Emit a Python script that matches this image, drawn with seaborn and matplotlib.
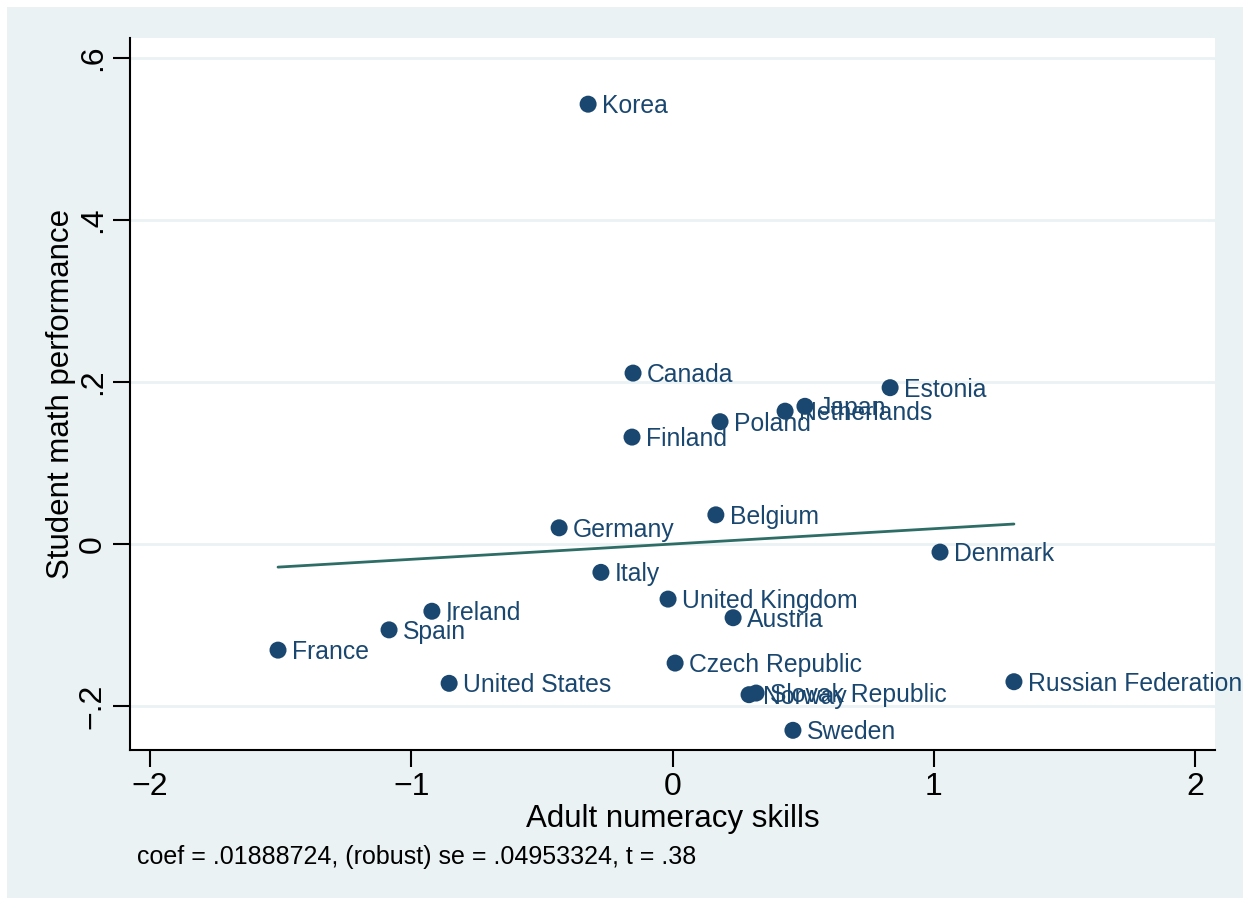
import numpy as np
import pandas as pd
import matplotlib
matplotlib.use('Agg')
import matplotlib.pyplot as plt
import seaborn as sns
from matplotlib.patches import Rectangle

# country values
countries = ['Korea', 'Canada', 'Finland', 'Estonia', 'Japan', 'Netherlands', 'Poland',
             'Belgium', 'Germany', 'Denmark', 'Italy', 'United Kingdom', 'Ireland',
             'Austria', 'Spain', 'France', 'Czech Republic', 'United States',
             'Russian Federation', 'Slovak Republic', 'Norway', 'Sweden']
adult = [-0.323, -0.151, -0.155, 0.833, 0.507, 0.431, 0.182,
         0.166, -0.434, 1.024, -0.274, -0.017, -0.921,
         0.232, -1.085, -1.510, 0.010, -0.855,
         1.307, 0.320, 0.293, 0.461]
student = [0.543, 0.211, 0.132, 0.193, 0.170, 0.164, 0.151,
           0.036, 0.020, -0.010, -0.035, -0.068, -0.083,
           -0.091, -0.106, -0.131, -0.147, -0.172,
           -0.170, -0.184, -0.186, -0.230]

coef = 0.01888724
intercept = 0.0
note = 'coef = .01888724, (robust) se = .04953324, t = .38'

xticks = [-2, -1, 0, 1, 2]
xticklabels = ['\u22122', '\u22121', '0', '1', '2']
yticks = [-0.2, 0, 0.2, 0.4, 0.6]
yticklabels = ['\u2212.2', '0', '.2', '.4', '.6']

df = pd.DataFrame({'country': countries, 'adult': adult, 'student': student})

sns.set_style('white')
plt.rcParams['font.family'] = ['Liberation Sans', 'DejaVu Sans']
plt.rcParams['text.color'] = 'black'
plt.rcParams['axes.labelcolor'] = 'black'
plt.rcParams['xtick.color'] = 'black'
plt.rcParams['ytick.color'] = 'black'

navy = '#1a476f'
bg = '#eaf2f3'

fig = plt.figure(figsize=(12.5, 9.05), dpi=100, facecolor='white')
fig.patches.append(Rectangle((7 / 1250, 7 / 905), 1236 / 1250, 891 / 905,
                             transform=fig.transFigure, facecolor=bg,
                             edgecolor='none', zorder=-1))
ax = fig.add_axes([130 / 1250, 1 - 750 / 905, 1085 / 1250, 712 / 905])
ax.set_facecolor('white')

for yv in yticks:
    ax.axhline(yv, color=bg, lw=2, zorder=0)

sns.scatterplot(data=df, x='adult', y='student', ax=ax, color=navy, s=150,
                edgecolor='none', zorder=3)

for _, r in df.iterrows():
    ax.annotate(r['country'], (r['adult'], r['student']), xytext=(10, -1.5),
                textcoords='offset points', va='center', ha='left',
                fontsize=17.8, color=navy, zorder=4)

# fitted line across the data range
xs = np.array([df['adult'].min(), df['adult'].max()])
sns.lineplot(x=xs, y=intercept + coef * xs, ax=ax, color='#2d6d66', lw=2, zorder=2)

ax.set_xlim(-2.0766, 2.0766)
ax.set_ylim(-0.2543, 0.6247)
ax.set_xticks(xticks)
ax.set_xticklabels(xticklabels, fontsize=23)
ax.set_yticks(yticks)
ax.set_yticklabels(yticklabels, fontsize=23, rotation=90, va='center')
ax.tick_params(axis='both', length=12, width=1.5, color='black', direction='out',
               left=True, bottom=True, pad=4)
for s in ['top', 'right']:
    ax.spines[s].set_visible(False)
for s in ['left', 'bottom']:
    ax.spines[s].set_color('black')
    ax.spines[s].set_linewidth(1.5)

ax.set_xlabel('Adult numeracy skills', fontsize=22.5, labelpad=1)
ax.set_ylabel('Student math performance', fontsize=22.5, labelpad=1)

fig.text(137 / 1250, 1 - 857 / 905, note, fontsize=18, va='center', ha='left')

fig.savefig('out.png', dpi=100, facecolor='white')
